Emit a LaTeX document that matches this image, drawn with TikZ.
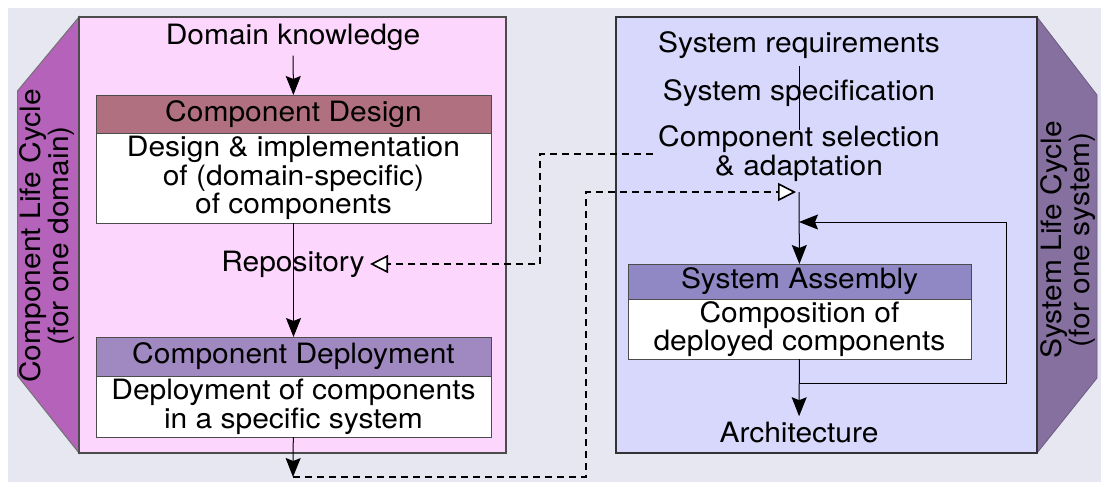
\documentclass[tikz,border=0pt]{standalone}
\usepackage{fontspec}
\setmainfont{TeX Gyre Heros}[FakeStretch=1.07]
\usepackage{tikz}
\usetikzlibrary{arrows.meta,positioning}
\definecolor{bggray}{RGB}{231,231,241}
\definecolor{pinkpanel}{RGB}{252,214,252}
\definecolor{tabmagenta}{RGB}{180,98,186}
\definecolor{designrose}{RGB}{176,112,128}
\definecolor{deploylilac}{RGB}{160,136,192}
\definecolor{lavpanel}{RGB}{216,216,252}
\definecolor{tabviolet}{RGB}{134,112,160}
\definecolor{assemblyblue}{RGB}{144,136,196}
\newcommand{\diagfont}{\fontsize{14pt}{14.3pt}\selectfont}
\tikzset{
  lbl/.style={
    inner sep=2.5pt,
    align=center,
    font=\diagfont
  },
  hdr/.style={
    draw=black!70,
    line width=.5pt,
    minimum width=197.5pt,
    minimum height=19pt,
    inner sep=0pt,
    outer sep=0pt,
    font=\diagfont
  },
  body/.style={
    draw=black!70,
    fill=white,
    line width=.5pt,
    align=center,
    minimum width=197.5pt,
    inner sep=0pt,
    outer sep=0pt,
    font=\diagfont
  },
  panel/.style={
    draw=black!70,
    line width=.6pt
  },
  flow/.style={
    -{Stealth[length=9.5pt,width=7.5pt,inset=1.5pt]},
    line width=.5pt,
    black
  },
  reuse/.style={
    -{Triangle[length=9pt,width=9pt,fill=white,line width=.8pt]},
    line width=1pt,
    dash pattern=on 3.5pt off 2.5pt,
    black
  }
}

\begin{document}
\begin{tikzpicture}[x=.5pt,y=-.5pt]
\useasboundingbox (0,0) rectangle (1101,482);
\fill[bggray] (8,8) rectangle (1101,482);
% component side
\filldraw[fill=tabmagenta, draw=black!55, line width=.5pt]
  (79,17) -- (17.7,90.7) -- (17.7,376) -- (79,453) -- cycle;
\filldraw[panel, fill=pinkpanel] (79,17) rectangle (506,453);
% system side
\filldraw[fill=tabviolet, draw=tabviolet!80!black, line width=.4pt]
  (1037,17) -- (1097,95) -- (1097,378) -- (1037,453) -- cycle;
\filldraw[panel, fill=lavpanel, draw=black!80] (616,17) rectangle (1037,453);

\node[lbl, rotate=90] (ctab) at (47,236) {Component Life Cycle\\(for one domain)};
\node[lbl, rotate=90] (stab) at (1068,240) {System Life Cycle\\(for one system)};

\node[lbl] (know) at (293,37) {Domain knowledge};
\node[hdr, fill=designrose] (cdes) at (293.5,114) {Component Design};
\node[body, minimum height=45pt, below=0pt of cdes] (cdesb) {Design \& implementation\\of (domain-specific)\\of components};
\node[lbl] (repo) at (293,264) {Repository};
\node[hdr, fill=deploylilac, minimum height=19.5pt] (cdep) at (293.5,356.5) {Component Deployment};
\node[body, minimum height=30.5pt, below=0pt of cdep] (cdepb) {Deployment of components\\in a specific system};
\coordinate (out) at (293,477);

\node[lbl] (sreq) at (799,45) {System requirements};
\node[lbl] (sspec) at (799,93) {System specification};
\node[lbl] (sel) at (799,153.5) {Component selection\\\& adaptation};
\coordinate (join) at (799,192);
\node[hdr, fill=assemblyblue, minimum width=171.5pt, minimum height=17.5pt] (sasm) at (799.5,281.5) {System Assembly};
\node[body, minimum width=171.5pt, minimum height=30pt, below=0pt of sasm] (sasmb) {Composition of\\deployed components};
\node[lbl] (arch) at (799,432) {Architecture};
\coordinate (fb) at (1006,222);

\draw[flow] (know) -- (cdes);
\draw[flow] (cdesb) -- (cdep);
\draw[flow] (cdepb) -- (out);
\draw[line width=.5pt, shorten <=1pt, shorten >=-5pt] (sreq) -- (sel);
\draw[flow] (join) -- (sasm);
\draw[flow] (sasmb.south) -- ++(0,24) -| (fb) -- (fb -| join);
\draw[flow] (sasmb) -- (arch);

\draw[reuse] (sel.west) -| (540,200) |- (repo.east);
\draw[reuse, shorten >=1.5pt] (out) -| (586,300) |- (join);
\end{tikzpicture}
\end{document}
